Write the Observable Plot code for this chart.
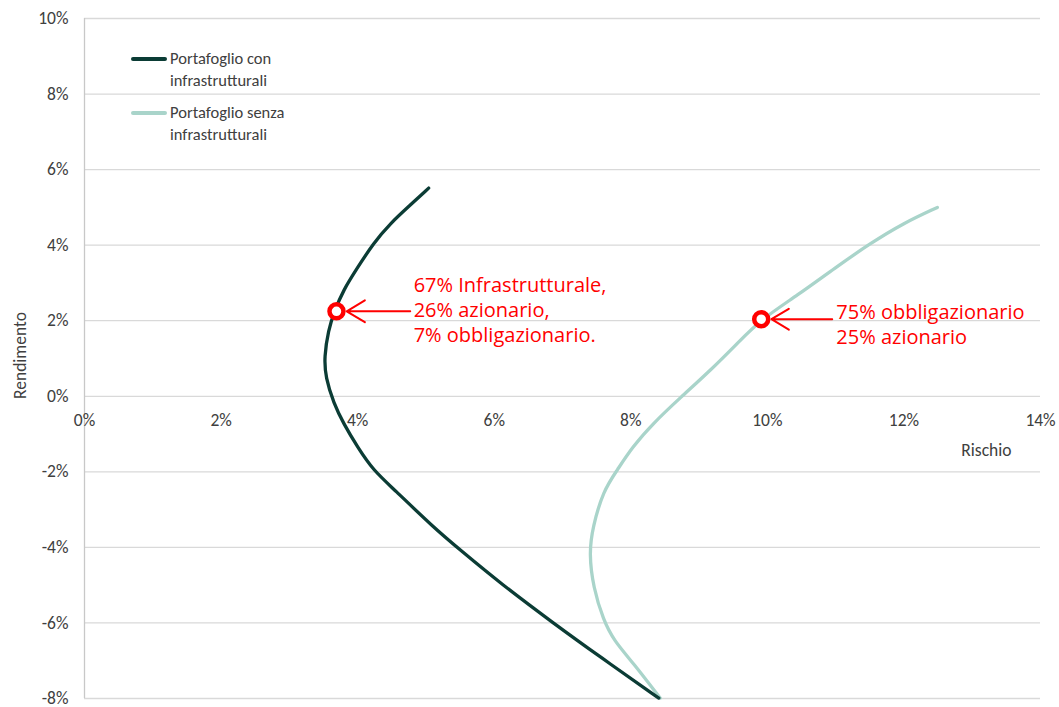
<!DOCTYPE html>
<html>
<head>
<meta charset="utf-8">
<script src="https://cdn.jsdelivr.net/npm/d3@7"></script>
<script src="https://cdn.jsdelivr.net/npm/@observablehq/plot@0.6"></script>
<style>
  html, body { margin: 0; padding: 0; background: #fff; }
  #wrap { position: relative; width: 1059px; height: 707px; }
  #legend { position: absolute; left: 0; top: 0; font-family: Carlito, Calibri, Roboto, sans-serif; font-size: 16.5px; color: #404040; }
  .item { position: absolute; left: 131px; display: flex; align-items: flex-start; white-space: nowrap; }
  .sw { width: 36px; height: 4px; margin-top: 10px; margin-right: 3px; border-radius: 2px; flex: none; }
  .lbl { line-height: 22px; white-space: nowrap; }
</style>
</head>
<body>
<div id="wrap">
  <div id="chart"></div>
  <div id="legend"></div>
</div>
<script>
// Frontiera efficiente: rischio (x, %) e rendimento (y, %)
const seriesNames = ["Portafoglio con\ninfrastrutturali", "Portafoglio senza\ninfrastrutturali"];
const seriesColors = ["#0b3c35", "#a9d4ca"];

const conRisk   = [5.04, 4.77, 4.48, 4.23, 4.00, 3.79, 3.66, 3.57, 3.51, 3.53, 3.65, 3.79, 4.00, 4.23, 4.52, 5.11, 5.51, 6.09, 6.87, 7.56, 8.41];
const conReturn = [5.51, 5.06, 4.58, 4.05, 3.41, 2.81, 2.25, 1.75, 1.03, 0.50, -0.19, -0.71, -1.35, -1.96, -2.44, -3.47, -4.08, -4.95, -6.01, -6.91, -7.99];

const senzaRisk   = [12.49, 11.99, 11.51, 11.00, 10.44, 9.91, 9.56, 9.17, 8.73, 8.33, 8.02, 7.80, 7.60, 7.44, 7.39, 7.45, 7.60, 7.75, 8.04, 8.43];
const senzaReturn = [5.00, 4.58, 4.05, 3.41, 2.67, 2.04, 1.40, 0.69, -0.03, -0.71, -1.35, -1.96, -2.49, -3.47, -4.16, -5.06, -5.93, -6.46, -7.07, -7.99];

// Punti evidenziati e annotazioni
const markerRisk   = [3.69, 9.91];
const markerReturn = [2.25, 2.04];
const arrowFromRisk = [4.77, 10.95];
const arrowToRisk   = [3.84, 10.06];
const annotationText = ["67% Infrastrutturale,\n26% azionario,\n7% obbligazionario.", "75% obbligazionario\n25% azionario"];
const annotationRisk = [4.82, 11.01];
const annotationReturn = [2.30, 1.93];

const xTicks = [0, 2, 4, 6, 8, 10, 12, 14];
const yTicks = [-8, -6, -4, -2, 0, 2, 4, 6, 8, 10];
const xLabel = "Rischio";
const yLabel = "Rendimento";

const con = conRisk.map((x, i) => ({x, y: conReturn[i]}));
const senza = senzaRisk.map((x, i) => ({x, y: senzaReturn[i]}));
const markers = markerRisk.map((x, i) => ({x, y: markerReturn[i]}));
const arrows = arrowFromRisk.map((x1, i) => ({x1, x2: arrowToRisk[i], y: markerReturn[i]}));
const notes = annotationText.map((t, i) => ({t, x: annotationRisk[i], y: annotationReturn[i]}));

const axisFont = "Carlito, Calibri, Roboto, sans-serif";
const pct = d => d + "%";
const fs = 17.5;

const chart = Plot.plot({
  width: 1059,
  height: 707,
  marginLeft: 84,
  marginRight: 19,
  marginTop: 18,
  marginBottom: 9,
  style: {fontFamily: axisFont, background: "#fff", overflow: "visible"},
  x: {domain: [0, 14], axis: null},
  y: {domain: [-8, 10], axis: null},
  marks: [
    Plot.gridY(yTicks, {stroke: "#d9d9d9", strokeOpacity: 1, strokeWidth: 1.3}),
    Plot.ruleX([0], {stroke: "#c8c8c8", strokeWidth: 1.3}),
    Plot.axisY(yTicks, {tickSize: 0, tickPadding: 16, tickFormat: pct, fontSize: fs, fill: "#404040", label: null}),
    Plot.text(xTicks, {x: d => d, y: 0, text: pct, dy: 24, fontSize: fs, fill: "#404040"}),
    Plot.text([yLabel], {frameAnchor: "left", textAnchor: "middle", dx: -64, dy: -3, rotate: -90, fontSize: fs, fill: "#404040"}),
    Plot.text([xLabel], {frameAnchor: "right", dx: -29, dy: 92, textAnchor: "end", fontSize: fs, fill: "#404040"}),
    Plot.line(senza, {x: "x", y: "y", curve: "basis", stroke: seriesColors[1], strokeWidth: 3.3}),
    Plot.line(con, {x: "x", y: "y", curve: "basis", stroke: seriesColors[0], strokeWidth: 3.3}),
    Plot.arrow(arrows, {x1: "x1", x2: "x2", y1: "y", y2: "y", stroke: "#ff0000", strokeWidth: 2, headLength: 22, headAngle: 62, inset: 0}),
    Plot.dot(markers, {x: "x", y: "y", r: 7, stroke: "#ff0000", strokeWidth: 4.5, fill: "#fff"}),
    Plot.text(notes, {x: "x", y: "y", text: "t", textAnchor: "start", lineAnchor: "middle", lineHeight: 1.25, fontSize: 20, fill: "#ff0000", fontFamily: "'Open Sans', sans-serif"})
  ]
});
document.getElementById("chart").appendChild(chart);

// Legenda
const legend = document.getElementById("legend");
const legendTops = [47, 101];
seriesNames.forEach((name, i) => {
  const item = document.createElement("div");
  item.className = "item";
  item.style.top = legendTops[i] + "px";
  const sw = document.createElement("div");
  sw.className = "sw";
  sw.style.background = seriesColors[i];
  const lbl = document.createElement("div");
  lbl.className = "lbl";
  lbl.innerHTML = name.split("\n").join("<br>");
  item.appendChild(sw);
  item.appendChild(lbl);
  legend.appendChild(item);
});
</script>
</body>
</html>
